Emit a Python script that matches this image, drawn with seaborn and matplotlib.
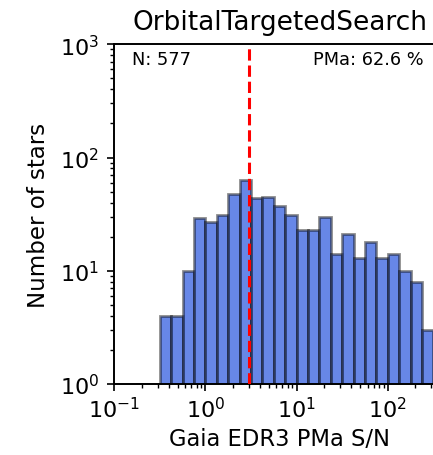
import numpy as np
import pandas as pd
import matplotlib
matplotlib.use("Agg")
import matplotlib.pyplot as plt
from matplotlib.ticker import LogLocator, NullFormatter
import seaborn as sns

# Histogram of Gaia EDR3 proper-motion-anomaly S/N (log-spaced bins, 8 per decade)
log_bin_lo = -0.75
log_bin_hi = 2.5
log_bin_width = 0.125
star_counts = [1, 1, 4, 4, 10, 29, 27, 31, 48, 63, 44, 45, 37, 31,
               23, 23, 30, 14, 21, 13, 18, 13, 14, 10, 8, 3]
n_stars = 577
pma_fraction = 62.6
snr_threshold = 3.0

title_text = "OrbitalTargetedSearch"
x_label = "Gaia EDR3 PMa S/N"
y_label = "Number of stars"

log_edges = np.arange(len(star_counts) + 1) * log_bin_width + log_bin_lo
centers = 10 ** (0.5 * (log_edges[:-1] + log_edges[1:]))
df = pd.DataFrame({"snr": centers, "count": star_counts})

sns.set_style("ticks", {"text.color": "black", "axes.labelcolor": "black",
                        "xtick.color": "black", "ytick.color": "black",
                        "axes.edgecolor": "black"})
plt.rcParams["font.family"] = ["DejaVu Sans"]

fig = plt.figure(figsize=(4.33, 4.56), dpi=100)
ax = fig.add_axes([0.264, 0.1557, 0.765, 0.745])

sns.histplot(data=df, x="snr", weights="count", log_scale=True,
             binwidth=log_bin_width, binrange=(log_bin_lo, log_bin_hi),
             ax=ax, alpha=None,
             facecolor=(65 / 255, 105 / 255, 225 / 255, 0.8),
             edgecolor=(0, 0, 0, 0.45), linewidth=2.0)
ax.set_yscale("log")

ax.axvline(snr_threshold, color="red", ls="--", lw=2.2, zorder=5)

ax.set_xlim(0.1, 10 ** 2.634)
ax.set_ylim(1, 1000)
for axis in (ax.xaxis, ax.yaxis):
    axis.set_major_locator(LogLocator(base=10, numticks=10))
    axis.set_minor_locator(LogLocator(base=10, subs=np.arange(2, 10), numticks=20))
    axis.set_minor_formatter(NullFormatter())

ax.set_title(title_text, fontsize=19, pad=11)
ax.set_xlabel(x_label, fontsize=16.3)
ax.set_ylabel(y_label, fontsize=16.5, labelpad=7)
ax.tick_params(axis="both", which="major", labelsize=16, length=5, width=1.2)
ax.tick_params(axis="y", which="major", pad=6)
ax.xaxis.set_tick_params(which="minor", bottom=True, length=3.2, width=1.0,
                         color="black")
ax.yaxis.set_tick_params(which="minor", left=True, length=3.2, width=1.0,
                         color="black")
for s in ax.spines.values():
    s.set_linewidth(1.4)
    s.set_visible(True)

ax.text(0.053, 0.956, f"N: {n_stars}", transform=ax.transAxes,
        fontsize=12.8, ha="left", va="center")
ax.text(0.933, 0.956, f"PMa: {pma_fraction} %",
        transform=ax.transAxes, fontsize=12.8, ha="right", va="center")

fig.savefig("out.png", dpi=100)
